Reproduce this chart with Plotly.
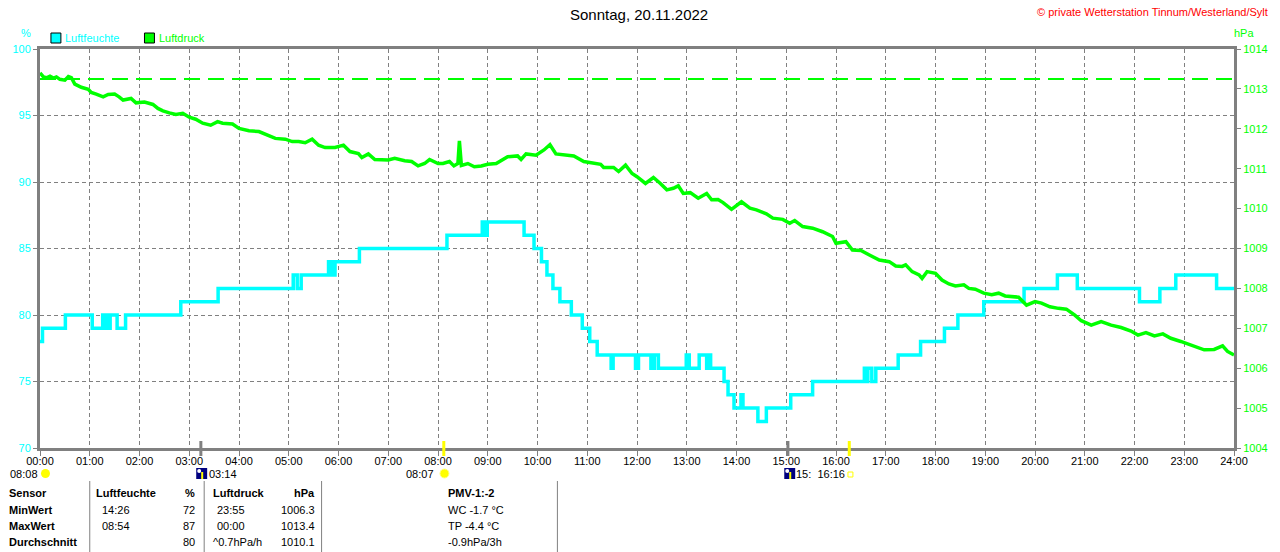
import plotly.graph_objects as go

# Luftfeuchte (%), Stufenwerte: Zeitpunkt (Stunden) ab dem der Wert gilt
hum_time = [0, 0.05, 0.51, 1.05, 1.26, 1.29, 1.31, 1.34, 1.36, 1.38, 1.41, 1.55, 1.72,
            2.83, 3.58, 5.09, 5.17, 5.25, 5.8, 5.84, 5.87, 5.9, 5.93, 6.42, 8.18, 8.89,
            8.92, 8.99, 9.73, 9.93, 10.08, 10.19, 10.31, 10.45, 10.68, 10.9, 11.05, 11.2,
            11.48, 11.52, 11.97, 12.03, 12.28, 12.35, 12.43, 12.99, 13.05, 13.25, 13.4,
            13.44, 13.48, 13.75, 13.83, 13.95, 14.09, 14.13, 14.43, 14.6, 15.09, 15.53,
            16.57, 16.6, 16.64, 16.72, 16.8, 17.25, 17.7, 18.18, 18.45, 18.97, 19.78,
            20.45, 20.85, 22.1, 22.51, 22.83, 23.65, 24.0]
hum_val = [78, 79, 80, 79, 80, 79, 80, 79, 80, 79, 80, 79, 80,
           81, 82, 83, 82, 83, 84, 83, 84, 83, 84, 85, 86, 87,
           86, 87, 86, 85, 84, 83, 82, 81, 80, 79, 78, 77,
           76, 77, 76, 77, 76, 77, 76, 77, 76, 77, 76,
           77, 76, 75, 74, 73, 74, 73, 72, 73, 74, 75,
           76, 75, 76, 75, 76, 77, 78, 79, 80, 81, 82,
           83, 82, 81, 82, 83, 82, 82]

# Luftdruck (hPa)
press_time = [0.0, 0.07, 0.13, 0.2, 0.27, 0.33, 0.4, 0.5, 0.57, 0.63, 0.7, 0.83, 0.97,
              1.03, 1.13, 1.27, 1.37, 1.5, 1.59, 1.67, 1.83, 1.93, 2.1, 2.27, 2.37, 2.47,
              2.6, 2.73, 2.87, 3.0, 3.13, 3.27, 3.43, 3.57, 3.67, 3.87, 4.0, 4.2, 4.4,
              4.53, 4.73, 4.93, 5.07, 5.2, 5.33, 5.47, 5.6, 5.73, 5.93, 6.1, 6.23, 6.4,
              6.47, 6.6, 6.73, 7.0, 7.13, 7.33, 7.47, 7.6, 7.73, 7.83, 8.0, 8.1, 8.23,
              8.32, 8.4, 8.43, 8.47, 8.6, 8.73, 8.87, 9.0, 9.17, 9.23, 9.4, 9.6, 9.67,
              9.77, 9.97, 10.13, 10.25, 10.37, 10.53, 10.73, 10.93, 11.13, 11.27, 11.33,
              11.53, 11.63, 11.77, 11.9, 12.0, 12.17, 12.33, 12.47, 12.6, 12.73, 12.83,
              12.93, 13.07, 13.23, 13.4, 13.5, 13.63, 13.73, 13.9, 14.1, 14.27, 14.4,
              14.6, 14.73, 14.93, 15.07, 15.17, 15.33, 15.53, 15.73, 15.93, 16.0, 16.2,
              16.33, 16.5, 16.7, 16.87, 17.07, 17.2, 17.33, 17.4, 17.53, 17.67, 17.73,
              17.83, 18.0, 18.13, 18.27, 18.4, 18.57, 18.67, 18.8, 18.97, 19.13, 19.27,
              19.4, 19.53, 19.67, 19.83, 20.0, 20.13, 20.3, 20.47, 20.63, 20.8, 20.93,
              21.13, 21.33, 21.53, 21.73, 21.93, 22.07, 22.23, 22.4, 22.57, 22.73, 22.93,
              23.07, 23.2, 23.4, 23.6, 23.77, 23.87, 24.0]
press_val = [1013.4, 1013.3, 1013.28, 1013.32, 1013.27, 1013.3, 1013.24, 1013.22, 1013.31,
             1013.28, 1013.12, 1013.04, 1012.99, 1012.91, 1012.87, 1012.8, 1012.86, 1012.87,
             1012.8, 1012.72, 1012.76, 1012.65, 1012.67, 1012.61, 1012.51, 1012.45, 1012.4,
             1012.36, 1012.39, 1012.29, 1012.24, 1012.14, 1012.09, 1012.18, 1012.14, 1012.12,
             1012.01, 1011.95, 1011.93, 1011.87, 1011.76, 1011.74, 1011.68, 1011.68, 1011.65,
             1011.74, 1011.59, 1011.53, 1011.53, 1011.59, 1011.43, 1011.38, 1011.28, 1011.37,
             1011.23, 1011.22, 1011.26, 1011.2, 1011.18, 1011.07, 1011.13, 1011.23, 1011.13,
             1011.13, 1011.18, 1011.07, 1011.13, 1011.7, 1011.08, 1011.13, 1011.05, 1011.07,
             1011.11, 1011.13, 1011.18, 1011.3, 1011.32, 1011.23, 1011.37, 1011.34, 1011.47,
             1011.6, 1011.37, 1011.34, 1011.32, 1011.18, 1011.13, 1011.11, 1011.03, 1011.03,
             1010.93, 1011.09, 1010.88, 1010.8, 1010.63, 1010.78, 1010.63, 1010.47, 1010.51,
             1010.57, 1010.38, 1010.4, 1010.26, 1010.38, 1010.22, 1010.23, 1010.15, 1009.98,
             1010.17, 1010.01, 1009.97, 1009.87, 1009.76, 1009.73, 1009.63, 1009.7, 1009.55,
             1009.51, 1009.42, 1009.3, 1009.13, 1009.17, 1008.96, 1008.95, 1008.82, 1008.71,
             1008.67, 1008.56, 1008.55, 1008.59, 1008.42, 1008.34, 1008.25, 1008.42, 1008.38,
             1008.21, 1008.11, 1008.06, 1008.09, 1008.0, 1007.98, 1007.88, 1007.84, 1007.88,
             1007.81, 1007.79, 1007.78, 1007.58, 1007.67, 1007.63, 1007.54, 1007.5, 1007.48,
             1007.33, 1007.19, 1007.08, 1007.17, 1007.08, 1007.02, 1006.93, 1006.83, 1006.89,
             1006.81, 1006.86, 1006.75, 1006.67, 1006.61, 1006.54, 1006.46, 1006.47, 1006.56,
             1006.42, 1006.33]

norm_press = 1013.25
hour_ticks = list(range(25))
hour_labels = ["%02d:00" % h for h in hour_ticks]

# Sonne / Mond (Stunden)
sunrise, sunset = 8 + 7 / 60, 16 + 16 / 60
moonrise, moonset = 3 + 14 / 60, 15 + 2 / 60

table_head = ["Sensor", "Luftfeuchte", "%", "Luftdruck", "hPa"]
row_names = ["MinWert", "MaxWert", "Durchschnitt"]
hum_times = ["14:26", "08:54", ""]
hum_stats = ["72", "87", "80"]
press_times = ["23:55", "00:00", "^0.7hPa/h"]
press_stats = ["1006.3", "1013.4", "1010.1"]
pmv_lines = ["PMV-1:-2", "WC -1.7 °C", "TP -4.4 °C", "-0.9hPa/3h"]

W, H = 1280, 552
L, R, T, B = 40, 40, 49, 104
FONT = "Liberation Sans, Arial, sans-serif"
CYAN, GREEN, GRAY = "#00ffff", "#00ff00", "#808080"


def px(x):
    return (x - L) / (W - L - R)


def py(y):
    return (H - B - y) / (H - T - B)


fig = go.Figure()
fig.add_trace(go.Scatter(x=hum_time, y=hum_val, mode="lines", line_shape="hv",
                         line=dict(color=CYAN, width=3.5), yaxis="y", showlegend=False))
fig.add_trace(go.Scatter(x=press_time, y=press_val, mode="lines",
                         line=dict(color=GREEN, width=3.5), yaxis="y2", showlegend=False))

shapes = []
# Normaldruck-Linie
shapes.append(dict(type="line", xref="x", yref="y2", x0=0, x1=24, y0=norm_press, y1=norm_press,
                   line=dict(color=GREEN, width=2, dash="16px,8px")))
# Markierungen auf der Zeitachse
for t, c in [(moonrise, GRAY), (moonset, GRAY), (sunrise, "#ffff00"), (sunset, "#ffff00")]:
    shapes.append(dict(type="line", xref="x", yref="paper", x0=t, x1=t, y0=py(441), y1=py(456),
                       line=dict(color=c, width=3)))
# Legende
for x0, c in [(51, CYAN), (145, GREEN)]:
    shapes.append(dict(type="rect", xref="paper", yref="paper", x0=px(x0), x1=px(x0 + 10),
                       y0=py(43), y1=py(33), fillcolor=c, line=dict(color="black", width=1)))
# Tabellen-Trennlinien
for x in [90, 205, 323, 560]:
    shapes.append(dict(type="line", xref="paper", yref="paper", x0=px(x), x1=px(x),
                       y0=py(481), y1=py(552), line=dict(color=GRAY, width=1)))
# Symbole: Wolke, Mond, Sonne
shapes.append(dict(type="circle", xref="paper", yref="paper", x0=px(41), x1=px(50),
                   y0=py(478), y1=py(469), fillcolor="#ffff00", line=dict(width=0)))
for x0 in [197, 788]:
    shapes.append(dict(type="rect", xref="paper", yref="paper", x0=px(x0), x1=px(x0 + 11),
                       y0=py(479), y1=py(468), fillcolor="#000080", line=dict(width=0)))
    shapes.append(dict(type="line", xref="paper", yref="paper", x0=px(x0 + 6), x1=px(x0 + 6),
                       y0=py(479), y1=py(472), line=dict(color="#ffff00", width=2)))
    shapes.append(dict(type="circle", xref="paper", yref="paper", x0=px(x0 + 1), x1=px(x0 + 5),
                       y0=py(473), y1=py(469), fillcolor="white", line=dict(width=0)))
shapes.append(dict(type="circle", xref="paper", yref="paper", x0=px(442), x1=px(451),
                   y0=py(478), y1=py(469), fillcolor="#ffff00", line=dict(color="#ffff80", width=1)))
shapes.append(dict(type="rect", xref="paper", yref="paper", x0=px(852), x1=px(857),
                   y0=py(477), y1=py(472), line=dict(color="#ffff00", width=1)))

ann = []


def text(x, y, s, color="black", size=11, anchor="left", bold=False):
    if bold:
        s = "<b>" + s + "</b>"
    ann.append(dict(xref="paper", yref="paper", x=px(x), y=py(y), text=s, showarrow=False,
                    xanchor=anchor, yanchor="middle", font=dict(family=FONT, size=size, color=color)))


text(642, 15, "Sonntag, 20.11.2022", size=15, anchor="center")
text(1276, 12, "© private Wetterstation Tinnum/Westerland/Sylt", color="#ff0000", size=11, anchor="right")
text(26, 33, "%", color=CYAN, anchor="center")
text(1250, 33, "hPa", color=GREEN, anchor="center")
text(63, 38, "Luftfeuchte", color=CYAN)
text(158, 38, "Luftdruck", color=GREEN)

text(40, 474, "08:08", anchor="right")
text(208, 474, "03:14")
text(438, 474, "08:07", anchor="right")
text(798, 474, "15:  16:16")

# Tabelle
head_x = [(7, "left"), (94, "left"), (198, "right"), (212, "left"), (318, "right")]
for (x, a), s in zip(head_x, table_head):
    text(x, 493, s, anchor=a, bold=True)
for i, y in enumerate([510, 526, 542]):
    text(7, y, row_names[i], bold=True)
    text(100, y, hum_times[i])
    text(198, y, hum_stats[i], anchor="right")
    text(216 if i < 2 else 212, y, press_times[i])
    text(318, y, press_stats[i], anchor="right")
for i, y in enumerate([493, 510, 526, 542]):
    text(448, y, pmv_lines[i], bold=(i == 0))

fig.update_layout(
    width=W, height=H,
    margin=dict(l=L, r=R, t=T, b=B),
    paper_bgcolor="white", plot_bgcolor="white",
    font=dict(family=FONT, size=11, color="black"),
    showlegend=False,
    shapes=shapes, annotations=ann,
    xaxis=dict(range=[0, 24], tickmode="array", tickvals=hour_ticks, ticktext=hour_labels,
               showgrid=True, gridcolor=GRAY, gridwidth=1, griddash="4px,3px",
               showline=True, linecolor=GRAY, linewidth=3, mirror=True,
               ticks="outside", ticklen=5, tickcolor=GRAY, zeroline=False,
               ticklabelstandoff=-4,
               tickfont=dict(size=11, color="black")),
    yaxis=dict(range=[70, 100], dtick=5, showgrid=True, gridcolor=GRAY, gridwidth=1,
               griddash="4px,3px", showline=True, linecolor=GRAY, linewidth=3,
               ticks="outside", ticklen=4, tickcolor=GRAY, zeroline=False,
               tickfont=dict(size=11, color=CYAN)),
    yaxis2=dict(range=[1004, 1014], dtick=1, overlaying="y", side="right", showgrid=False,
                showline=True, linecolor=GRAY, linewidth=3, ticks="outside", ticklen=4,
                tickcolor=GRAY, zeroline=False, tickfont=dict(size=11, color=GREEN)),
)

fig.write_html("out.html", config={"displayModeBar": False},
               post_script="document.body.style.margin='0';document.body.style.overflow='hidden';")
